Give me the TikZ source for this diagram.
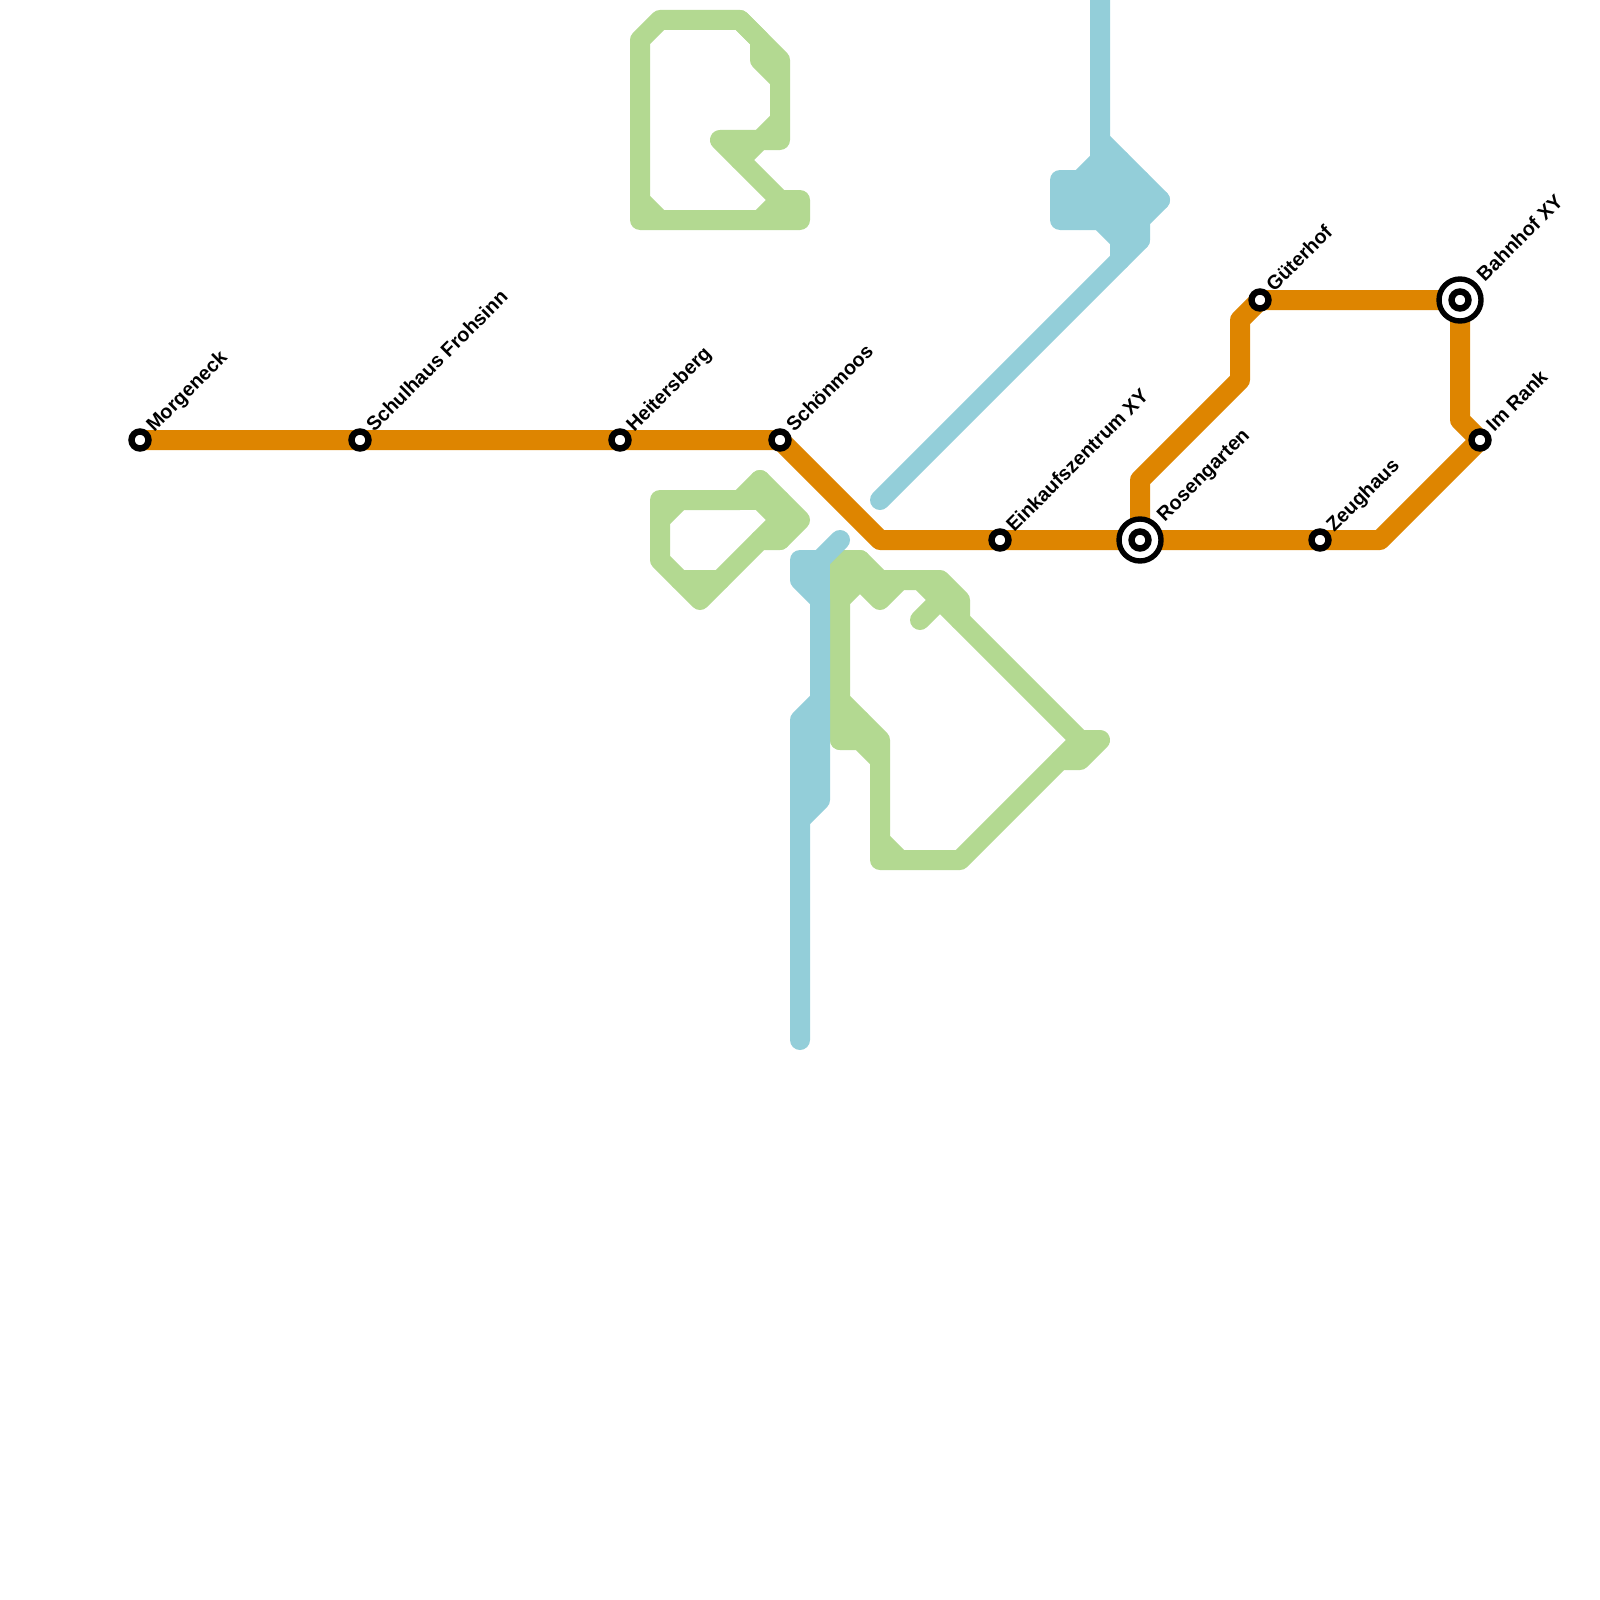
\documentclass[tikz,border=0pt]{standalone}
\usepackage{fontspec}
\setmainfont{Liberation Sans}
\usepackage{xcolor}
\usetikzlibrary{backgrounds}
\definecolor{lineorange}{RGB}{222,133,0}
\definecolor{linegreen}{RGB}{179,217,145}
\definecolor{lineblue}{RGB}{147,206,217}

\begin{document}
\begin{tikzpicture}[x=1pt, y=-1pt,
    line/.style={line width=20pt, line cap=round, line join=round},
    stop/.style={circle, draw=black, fill=white, line width=6.4pt, minimum size=17pt, inner sep=0pt},
    hub/.style={circle, draw=black, fill=white, line width=5.4pt, minimum size=42pt, inner sep=0pt},
    stopname/.style={rotate=45, anchor=base west, inner sep=0pt, xshift=15pt, yshift=-5pt,
                     font=\bfseries\fontsize{19.8}{22}\selectfont},
    hubname/.style={stopname, xshift=15pt}]

\useasboundingbox (0,0) rectangle (1600,1600);

% stations
\node[stop] (morgeneck) at (140,440) {};
\node[stop] (schulhaus) at (360,440) {};
\node[stop] (heitersberg) at (620,440) {};
\node[stop] (schoenmoos) at (780,440) {};
\node[stop] (einkauf) at (1000,540) {};
\node[hub] (rosengarten) at (1140,540) {};
\node[stop] (rosengartenin) at (rosengarten) {};
\node[stop] (zeughaus) at (1320,540) {};
\node[stop] (imrank) at (1480,440) {};
\node[hub] (bahnhof) at (1460,300) {};
\node[stop] (bahnhofin) at (bahnhof) {};
\node[stop] (gueterhof) at (1260,300) {};

% names
\node[stopname] (morgenecktext) at (morgeneck) {Morgeneck};
\node[stopname] (schulhaustext) at (schulhaus) {Schulhaus Frohsinn};
\node[stopname] (heitersbergtext) at (heitersberg) {Heitersberg};
\node[stopname] (schoenmoostext) at (schoenmoos) {Schönmoos};
\node[stopname] (einkauftext) at (einkauf) {Einkaufszentrum XY};
\node[hubname] (rosengartentext) at (rosengarten) {Rosengarten};
\node[stopname] (zeughaustext) at (zeughaus) {Zeughaus};
\node[stopname] (imranktext) at (imrank) {Im Rank};
\node[hubname] (bahnhoftext) at (bahnhof) {Bahnhof XY};
\node[stopname] (gueterhoftext) at (gueterhof) {Güterhof};

\begin{scope}[on background layer]
% green, top
\draw[line, linegreen] (640,220) -- (640,40) -- (660,20) -- (740,20) -- (780,60) -- (780,140) -- (720,140)
    -- (780,200) -- (800,200) -- (800,220) -- cycle;
\draw[line, linegreen] (740,20) -- (760,40) -- (760,60) -- (780,80);
\draw[line, linegreen] (780,120) -- (740,160);
\draw[line, linegreen] (640,200) -- (660,220);
\draw[line, linegreen] (780,200) -- (760,220);
% green, middle
\draw[line, linegreen] (660,500) -- (740,500) -- (760,480) -- (800,520) -- (780,540) -- (760,540) -- (700,600)
    -- (660,560) -- cycle;
\draw[line, linegreen] (660,520) -- (680,500);
\draw[line, linegreen] (740,500) -- (780,500) -- (780,540);
\draw[line, linegreen] (760,480) -- (760,500) -- (780,520) -- (760,540);
\draw[line, linegreen] (680,580) -- (720,580);
% green, lower
\draw[line, linegreen] (840,740) -- (840,560) -- (860,560) -- (880,580) -- (940,580) -- (960,600) -- (960,620);
\draw[line, linegreen] (840,580) -- (860,580) -- (860,560);
\draw[line, linegreen] (840,600) -- (860,580) -- (880,600) -- (900,580);
\draw[line, linegreen] (920,620) -- (940,600);
\draw[line, linegreen] (920,580) -- (1080,740) -- (1100,740) -- (1080,760) -- (1060,760);
\draw[line, linegreen] (1080,740) -- (960,860) -- (880,860) -- (880,740) -- (840,700);
\draw[line, linegreen] (840,740) -- (860,740) -- (880,760);
\draw[line, linegreen] (840,720) -- (860,720);
\draw[line, linegreen] (880,840) -- (900,860);
% blue
\draw[line, lineblue] (840,540) -- (820,560) -- (800,560) -- (800,580) -- (820,600) -- (820,800) -- (800,820);
\draw[line, lineblue] (820,560) -- (820,600);
\draw[line, lineblue] (820,700) -- (800,720) -- (800,1040);
\draw[line, lineblue] (1100,0) -- (1100,220) -- (1120,240) -- (1140,240);
\draw[line, lineblue] (1100,140) -- (1160,200) -- (1140,220) -- (1140,240) -- (880,500);
\draw[line, lineblue] (1100,160) -- (1080,180) -- (1060,180) -- (1060,220) -- (1140,220);
\draw[line, lineblue] (1060,200) -- (1160,200);
\draw[line, lineblue] (1080,180) -- (1140,180) -- (1140,220);
\draw[line, lineblue] (1080,180) -- (1080,220);
\draw[line, lineblue] (1120,160) -- (1120,260);
% orange
\draw[line, lineorange] (morgeneck.center) -- (schulhaus.center) -- (heitersberg.center) -- (schoenmoos.center)
    -- (880,540) -- (einkauf.center) -- (rosengarten.center) -- (zeughaus.center) -- (1380,540) -- (imrank.center)
    -- (1460,420) -- (bahnhof.center) -- (gueterhof.center) -- (1240,320) -- (1240,380) -- (1140,480)
    -- (rosengarten.center);
\end{scope}

\end{tikzpicture}
\end{document}
